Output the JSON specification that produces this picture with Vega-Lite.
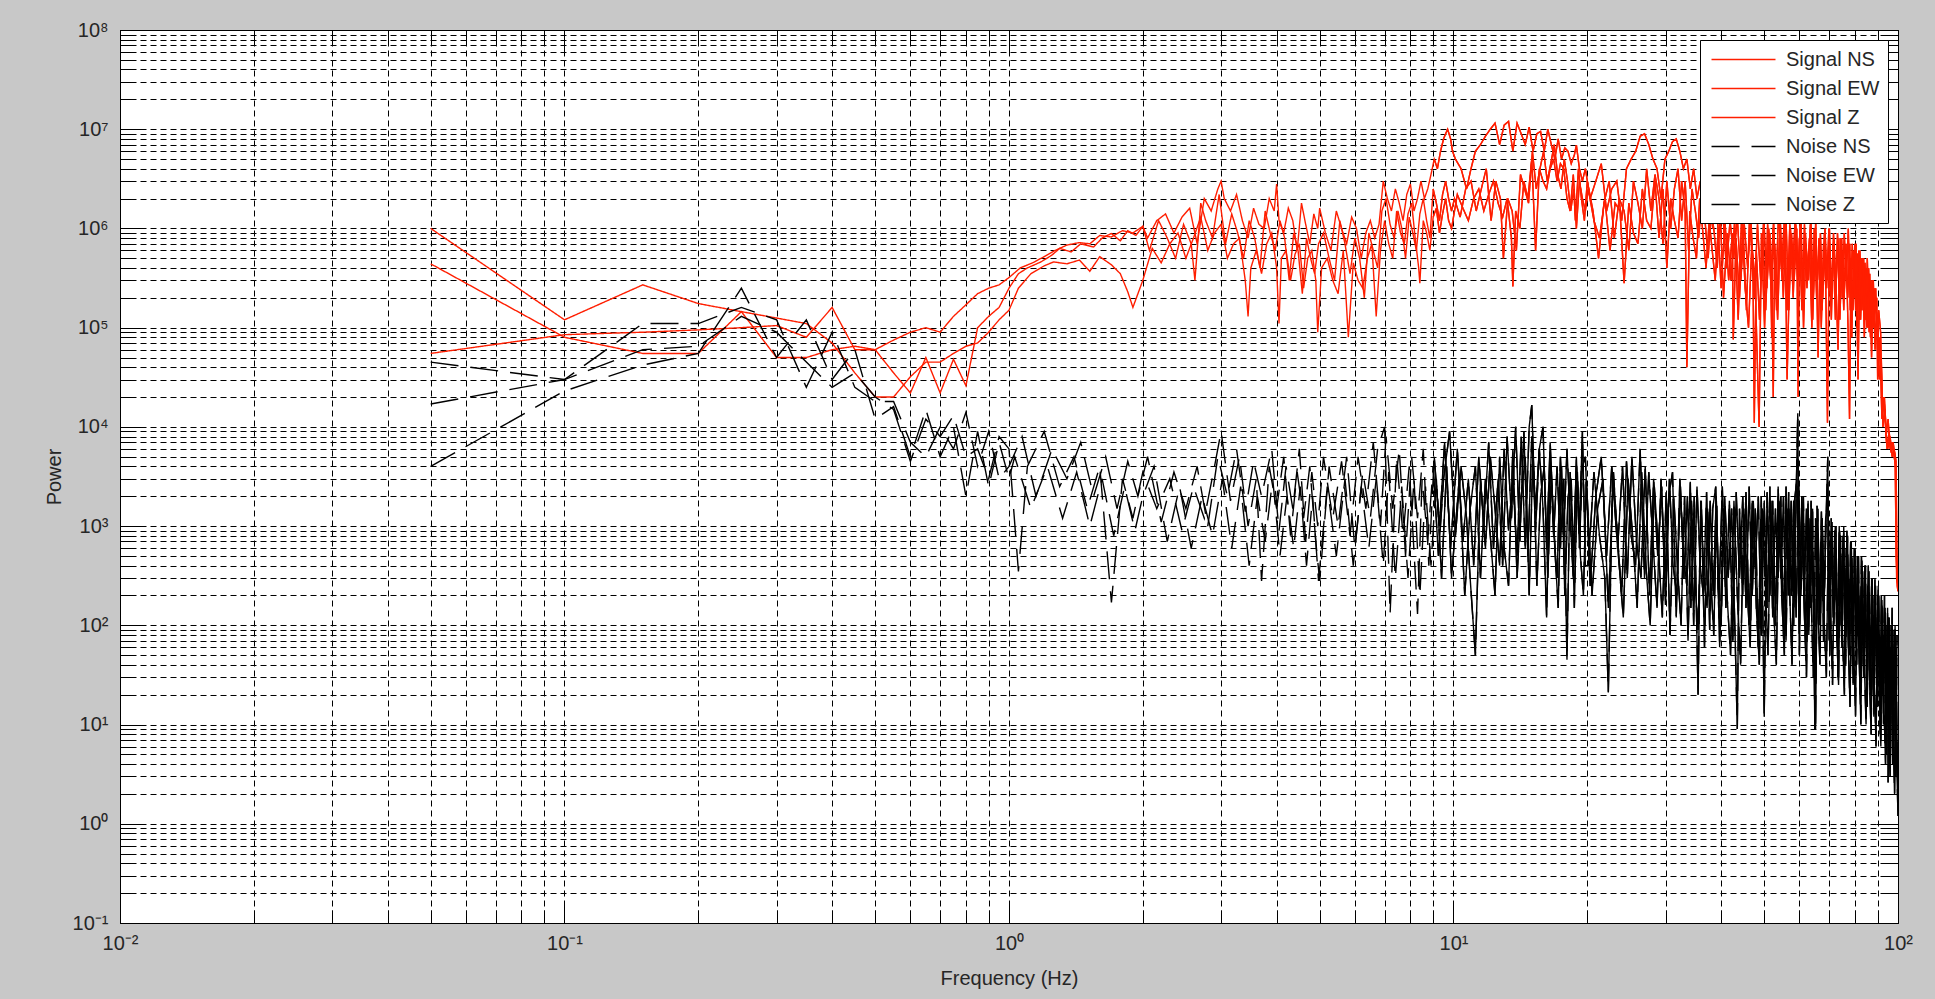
{
"$schema":"https://vega.github.io/schema/vega-lite/v6.json",
"width":1778,"height":893,
"autosize":{"type":"none"},
"padding":{"left":120,"top":30,"right":37,"bottom":76},
"background":"#c8c8c8",
"config":{
 "view":{"fill":"#ffffff","stroke":"#000000","strokeWidth":1},
 "font":"Liberation Sans",
 "axis":{"domain":false,"labelFont":"Liberation Sans","titleFont":"Liberation Sans","tickColor":"#000000","tickWidth":1,"gridColor":"#000000","gridDash":[6,4],"gridWidth":1,"gridOpacity":1},
 "legend":{"orient":"top-right","offset":10,"padding":8,"fillColor":"#ffffff","strokeColor":"#000000","strokeWidth":1,"cornerRadius":0,"labelFont":"Liberation Sans","labelFontSize":20,"labelColor":"#262626","symbolType":"M-3,0H3","symbolSize":455,"symbolOffset":24,"labelOffset":31,"symbolStrokeWidth":1.5,"rowPadding":7,"zindex":5}
},
"data":{"values":[
{"s":"A","f":0.05,"p":1e6},{"s":"A","f":0.1,"p":1.2e5},{"s":"A","f":0.15,"p":2.7e5},{"s":"A","f":0.2,"p":1.75e5},{"s":"A","f":0.25,"p":1.45e5},{"s":"A","f":0.3,"p":1.25e5},{"s":"A","f":0.35,"p":1.1e5},{"s":"A","f":0.4,"p":7e4},{"s":"A","f":0.45,"p":3.5e4},{"s":"A","f":0.5,"p":2e4},{"s":"A","f":0.55,"p":2e4},{"s":"A","f":0.6,"p":3.2e4},{"s":"A","f":0.65,"p":4.5e4},{"s":"A","f":0.7,"p":4.5e4},{"s":"A","f":0.75,"p":5.5e4},{"s":"A","f":0.8,"p":6.5e4},{"s":"A","f":0.85,"p":7e4},{"s":"A","f":0.9,"p":9e4},{"s":"A","f":0.95,"p":1.2e5},{"s":"A","f":1,"p":1.5e5},
{"s":"A","f":1.05,"p":2.5e5},{"s":"A","f":1.12,"p":3.5e5},{"s":"A","f":1.2,"p":4.2e5},{"s":"A","f":1.26,"p":4.6e5},{"s":"A","f":1.35,"p":4.4e5},{"s":"A","f":1.44,"p":4.8e5},{"s":"A","f":1.52,"p":3.7e5},{"s":"A","f":1.6,"p":5.2e5},{"s":"A","f":1.7,"p":4.3e5},{"s":"A","f":1.78,"p":3.5e5},{"s":"A","f":1.85,"p":2.3e5},{"s":"A","f":1.9,"p":1.6e5},{"s":"A","f":1.95,"p":2.2e5},{"s":"A","f":2,"p":3e5},
{"s":"A","f":2.1,"p":6.3e5},{"s":"A","f":2.2,"p":4.5e5},{"s":"A","f":2.3,"p":7e5},{"s":"A","f":2.4,"p":9e5},{"s":"A","f":2.5,"p":5e5},{"s":"A","f":2.6,"p":8e5},{"s":"A","f":2.7,"p":1.3e6},{"s":"A","f":2.8,"p":6e5},{"s":"A","f":2.9,"p":9e5},{"s":"A","f":3,"p":1.1e6},{"s":"A","f":3.1,"p":5e5},{"s":"A","f":3.2,"p":7e5},{"s":"A","f":3.3,"p":8e5},{"s":"A","f":3.4,"p":3e5},{"s":"A","f":3.45,"p":1.3e5},{"s":"A","f":3.5,"p":4e5},{"s":"A","f":3.6,"p":6e5},{"s":"A","f":3.7,"p":3.5e5},{"s":"A","f":3.8,"p":7e5},{"s":"A","f":3.9,"p":9e5},{"s":"A","f":4,"p":4e5},{"s":"A","f":4.05,"p":1.1e5},{"s":"A","f":4.1,"p":5e5},{"s":"A","f":4.2,"p":6e5},{"s":"A","f":4.3,"p":3e5},{"s":"A","f":4.4,"p":5.5e5},{"s":"A","f":4.5,"p":7e5},{"s":"A","f":4.6,"p":2.5e5},{"s":"A","f":4.7,"p":5e5},{"s":"A","f":4.8,"p":6e5},{"s":"A","f":4.9,"p":3e5},{"s":"A","f":4.95,"p":9e4},
{"s":"A","f":5.05,"p":4e5},{"s":"A","f":5.2,"p":5e5},{"s":"A","f":5.35,"p":3e5},{"s":"A","f":5.5,"p":2.2e5},{"s":"A","f":5.65,"p":6e5},{"s":"A","f":5.8,"p":8e4},{"s":"A","f":5.95,"p":4.5e5},{"s":"A","f":6.1,"p":3e5},{"s":"A","f":6.25,"p":2.5e5},{"s":"A","f":6.4,"p":5e5},{"s":"A","f":6.55,"p":7e5},{"s":"A","f":6.7,"p":1.3e5},{"s":"A","f":6.85,"p":6e5},{"s":"A","f":7,"p":1.2e6},{"s":"A","f":7.15,"p":7e5},{"s":"A","f":7.3,"p":5e5},{"s":"A","f":7.45,"p":1.5e6},{"s":"A","f":7.6,"p":9e5},{"s":"A","f":7.75,"p":7e5},{"s":"A","f":7.9,"p":1.4e6},{"s":"A","f":8.05,"p":1.8e6},{"s":"A","f":8.2,"p":8e5},{"s":"A","f":8.35,"p":4e5},{"s":"A","f":8.4,"p":2.8e5},{"s":"A","f":8.55,"p":1.2e6},{"s":"A","f":8.7,"p":9e5},{"s":"A","f":8.85,"p":6e5},{"s":"A","f":9,"p":1.3e6},{"s":"A","f":9.15,"p":1.6e6},{"s":"A","f":9.3,"p":9e5},{"s":"A","f":9.45,"p":1.4e6},{"s":"A","f":9.6,"p":2e6},{"s":"A","f":9.75,"p":1.2e6},{"s":"A","f":9.9,"p":1e6},
{"s":"A","f":10.2,"p":2.2e6},{"s":"A","f":10.5,"p":1.6e6},{"s":"A","f":10.8,"p":1.2e6},{"s":"A","f":11.1,"p":2e6},{"s":"A","f":11.4,"p":2.5e6},{"s":"A","f":11.7,"p":1.5e6},{"s":"A","f":12,"p":2.2e6},{"s":"A","f":12.3,"p":3e6},{"s":"A","f":12.6,"p":1.8e6},{"s":"A","f":12.9,"p":1.3e6},{"s":"A","f":13.2,"p":2e6},{"s":"A","f":13.5,"p":8e5},{"s":"A","f":13.6,"p":2.6e5},{"s":"A","f":13.8,"p":1.5e6},{"s":"A","f":14.1,"p":1e6},{"s":"A","f":14.4,"p":3e6},{"s":"A","f":14.7,"p":2e6},{"s":"A","f":15,"p":5e6},{"s":"A","f":15.3,"p":6e5},{"s":"A","f":15.6,"p":4e6},{"s":"A","f":15.9,"p":3e6},{"s":"A","f":16.2,"p":2.5e6},{"s":"A","f":16.5,"p":4e6},{"s":"A","f":16.8,"p":5e6},{"s":"A","f":17.1,"p":3e6},{"s":"A","f":17.4,"p":4.5e6},{"s":"A","f":17.7,"p":4e6},{"s":"A","f":18,"p":2e6},{"s":"A","f":18.3,"p":1.5e6},{"s":"A","f":18.6,"p":3.5e6},{"s":"A","f":18.9,"p":1e6},{"s":"A","f":19.2,"p":3e6},{"s":"A","f":19.5,"p":2e6},{"s":"A","f":19.8,"p":1.5e6},
{"s":"A","f":20.1,"p":2.5e6},{"s":"A","f":20.7,"p":1.2e6},{"s":"A","f":21.3,"p":8e5},{"s":"A","f":21.9,"p":2e6},{"s":"A","f":22.5,"p":6e5},{"s":"A","f":23.1,"p":1.8e6},{"s":"A","f":23.7,"p":1.5e6},{"s":"A","f":24.2,"p":2.8e5},{"s":"A","f":24.8,"p":1.8e6},{"s":"A","f":25.4,"p":9e5},{"s":"A","f":26,"p":7e5},{"s":"A","f":26.6,"p":2.5e6},{"s":"A","f":27.2,"p":1.2e6},{"s":"A","f":27.8,"p":1e6},{"s":"A","f":28.4,"p":3e6},{"s":"A","f":29,"p":8e5},{"s":"A","f":29.6,"p":2.5e6},{"s":"A","f":30.2,"p":4e5},{"s":"A","f":30.8,"p":2e6},{"s":"A","f":31.4,"p":1.2e6},{"s":"A","f":32,"p":8e5},{"s":"A","f":32.6,"p":3e6},{"s":"A","f":33.2,"p":1.5e6},{"s":"A","f":33.5,"p":4e4},{"s":"A","f":34,"p":1.5e6},{"s":"A","f":34.6,"p":8e5},{"s":"A","f":35.2,"p":5e5},{"s":"A","f":35.8,"p":2e6},{"s":"A","f":36.4,"p":9e5},{"s":"A","f":37,"p":4e5},{"s":"A","f":37.6,"p":1.2e6},{"s":"A","f":38.2,"p":6e5},{"s":"A","f":38.8,"p":3e5},{"s":"A","f":39.4,"p":1e6},
{"s":"A","f":40,"p":2.5e5},{"s":"A","f":40.8,"p":1.2e6},{"s":"A","f":41.6,"p":3e5},{"s":"A","f":42.4,"p":9e5},{"s":"A","f":42.6,"p":7.6e4},{"s":"A","f":43.2,"p":8e5},{"s":"A","f":44,"p":2e5},{"s":"A","f":44.8,"p":1.1e6},{"s":"A","f":45.6,"p":1.5e5},{"s":"A","f":46.4,"p":1.5e6},{"s":"A","f":47.2,"p":3e5},{"s":"A","f":47.5,"p":1.1e4},{"s":"A","f":48,"p":6e5},{"s":"A","f":48.8,"p":1.2e5},{"s":"A","f":49.6,"p":9e5},{"s":"A","f":50.4,"p":1.5e5},{"s":"A","f":51.2,"p":1e6},{"s":"A","f":52,"p":2.5e5},{"s":"A","f":52.4,"p":2e4},{"s":"A","f":52.8,"p":7e5},{"s":"A","f":53.6,"p":1.2e5},{"s":"A","f":54.4,"p":1.1e6},{"s":"A","f":55.2,"p":2e5},{"s":"A","f":56,"p":1.2e6},{"s":"A","f":56.8,"p":1.5e5},{"s":"A","f":57.6,"p":9e5},{"s":"A","f":58.4,"p":3e5},{"s":"A","f":59.2,"p":1e6},{"s":"A","f":59.6,"p":2e4},{"s":"A","f":60,"p":8e5},{"s":"A","f":60.8,"p":1.5e5},{"s":"A","f":61.6,"p":1.1e6},{"s":"A","f":62.4,"p":2.5e5},{"s":"A","f":63.2,"p":8e5},{"s":"A","f":64,"p":1e5},{"s":"A","f":64.8,"p":1e6},{"s":"A","f":65.6,"p":2e5},{"s":"A","f":66.4,"p":8e5},{"s":"A","f":67.2,"p":1e5},{"s":"A","f":68,"p":7e5},{"s":"A","f":68.8,"p":2.5e5},{"s":"A","f":69.4,"p":1.1e4},{"s":"A","f":70,"p":6e5},{"s":"A","f":70.8,"p":1.2e5},{"s":"A","f":71.6,"p":9e5},{"s":"A","f":72.4,"p":2e5},{"s":"A","f":73.2,"p":8e5},{"s":"A","f":74,"p":1.2e5},{"s":"A","f":74.8,"p":6e5},{"s":"A","f":75.6,"p":2e5},{"s":"A","f":76.4,"p":7e5},{"s":"A","f":77.2,"p":1e5},{"s":"A","f":77.8,"p":1.2e4},{"s":"A","f":78.4,"p":5e5},{"s":"A","f":79.2,"p":1.5e5},{"s":"A","f":80,"p":7e5},{"s":"A","f":80.8,"p":1e5},{"s":"A","f":81.6,"p":6e5},{"s":"A","f":82.4,"p":1.2e5},{"s":"A","f":83.2,"p":5e5},{"s":"A","f":84,"p":8e4},{"s":"A","f":84.8,"p":4e5},{"s":"A","f":85.6,"p":1e5},{"s":"A","f":86.4,"p":3.5e5},{"s":"A","f":87.2,"p":5e4},{"s":"A","f":88,"p":3e5},{"s":"A","f":88.8,"p":6e4},{"s":"A","f":89.6,"p":2e5},
{"s":"A","f":90,"p":3e4},{"s":"A","f":91,"p":8e4},{"s":"A","f":92,"p":1.2e4},{"s":"A","f":93,"p":2e4},{"s":"A","f":94,"p":8e3},{"s":"A","f":95,"p":1.2e4},{"s":"A","f":96,"p":6e3},{"s":"A","f":97,"p":7e3},{"s":"A","f":98,"p":5e3},{"s":"A","f":98.8,"p":4e3},{"s":"A","f":99.3,"p":3e2},{"s":"A","f":100,"p":2.5e2},
{"s":"B","f":0.05,"p":4.4e5},{"s":"B","f":0.1,"p":8e4},{"s":"B","f":0.15,"p":5.5e4},{"s":"B","f":0.2,"p":5.5e4},{"s":"B","f":0.25,"p":1.45e5},{"s":"B","f":0.3,"p":5e4},{"s":"B","f":0.35,"p":5e4},{"s":"B","f":0.4,"p":6e4},{"s":"B","f":0.45,"p":6.5e4},{"s":"B","f":0.5,"p":6e4},{"s":"B","f":0.55,"p":7.5e4},{"s":"B","f":0.6,"p":9e4},{"s":"B","f":0.65,"p":1e5},{"s":"B","f":0.7,"p":9e4},{"s":"B","f":0.75,"p":1.3e5},{"s":"B","f":0.8,"p":1.7e5},{"s":"B","f":0.85,"p":2.2e5},{"s":"B","f":0.9,"p":2.5e5},{"s":"B","f":0.95,"p":2.7e5},{"s":"B","f":1,"p":3.2e5},
{"s":"B","f":1.06,"p":4e5},{"s":"B","f":1.13,"p":4.5e5},{"s":"B","f":1.2,"p":5.2e5},{"s":"B","f":1.27,"p":6e5},{"s":"B","f":1.35,"p":6.8e5},{"s":"B","f":1.44,"p":7.2e5},{"s":"B","f":1.52,"p":7e5},{"s":"B","f":1.6,"p":8.5e5},{"s":"B","f":1.7,"p":8.2e5},{"s":"B","f":1.8,"p":9.5e5},{"s":"B","f":1.9,"p":9e5},{"s":"B","f":2,"p":1.05e6},
{"s":"B","f":2.05,"p":8e5},{"s":"B","f":2.15,"p":1.2e6},{"s":"B","f":2.25,"p":1.4e6},{"s":"B","f":2.35,"p":9e5},{"s":"B","f":2.45,"p":1.3e6},{"s":"B","f":2.55,"p":1.6e6},{"s":"B","f":2.65,"p":7e5},{"s":"B","f":2.75,"p":2e6},{"s":"B","f":2.85,"p":1.5e6},{"s":"B","f":2.95,"p":2.5e6},{"s":"B","f":3,"p":3e6},{"s":"B","f":3.05,"p":2e6},{"s":"B","f":3.15,"p":1.5e6},{"s":"B","f":3.25,"p":2.2e6},{"s":"B","f":3.35,"p":1.2e6},{"s":"B","f":3.45,"p":8e5},{"s":"B","f":3.55,"p":1.6e6},{"s":"B","f":3.65,"p":1.1e6},{"s":"B","f":3.75,"p":1e6},{"s":"B","f":3.85,"p":2e6},{"s":"B","f":3.95,"p":1.5e6},{"s":"B","f":4,"p":2.8e6},{"s":"B","f":4.05,"p":1.2e6},{"s":"B","f":4.15,"p":9e5},{"s":"B","f":4.25,"p":1.6e6},{"s":"B","f":4.35,"p":1.2e6},{"s":"B","f":4.45,"p":6e5},{"s":"B","f":4.55,"p":1.8e6},{"s":"B","f":4.65,"p":1.1e6},{"s":"B","f":4.75,"p":7e5},{"s":"B","f":4.85,"p":1.4e6},{"s":"B","f":4.95,"p":1e6},
{"s":"B","f":5,"p":1.6e6},{"s":"B","f":5.15,"p":9e5},{"s":"B","f":5.3,"p":6e5},{"s":"B","f":5.45,"p":1.5e6},{"s":"B","f":5.6,"p":1e6},{"s":"B","f":5.75,"p":7e5},{"s":"B","f":5.9,"p":1.3e6},{"s":"B","f":6.05,"p":1e6},{"s":"B","f":6.2,"p":5e5},{"s":"B","f":6.35,"p":9e5},{"s":"B","f":6.5,"p":1.2e6},{"s":"B","f":6.65,"p":8e5},{"s":"B","f":6.8,"p":1.1e6},{"s":"B","f":6.95,"p":3e6},{"s":"B","f":7.1,"p":2e6},{"s":"B","f":7.25,"p":1.5e6},{"s":"B","f":7.4,"p":2.5e6},{"s":"B","f":7.55,"p":1.8e6},{"s":"B","f":7.7,"p":1.2e6},{"s":"B","f":7.85,"p":2.2e6},{"s":"B","f":8,"p":2.8e6},{"s":"B","f":8.15,"p":1.5e6},{"s":"B","f":8.3,"p":2e6},{"s":"B","f":8.45,"p":3e6},{"s":"B","f":8.6,"p":2e6},{"s":"B","f":8.75,"p":2.5e6},{"s":"B","f":8.9,"p":3.5e6},{"s":"B","f":9.05,"p":5e6},{"s":"B","f":9.2,"p":4e6},{"s":"B","f":9.35,"p":6e6},{"s":"B","f":9.5,"p":8e6},{"s":"B","f":9.6,"p":9e6},{"s":"B","f":9.7,"p":1e7},{"s":"B","f":9.85,"p":8e6},{"s":"B","f":9.95,"p":6e6},
{"s":"B","f":10.1,"p":5e6},{"s":"B","f":10.4,"p":4e6},{"s":"B","f":10.7,"p":2.5e6},{"s":"B","f":10.95,"p":4e6},{"s":"B","f":11.2,"p":6e6},{"s":"B","f":11.5,"p":7e6},{"s":"B","f":11.8,"p":8.5e6},{"s":"B","f":12.1,"p":1e7},{"s":"B","f":12.4,"p":1.15e7},{"s":"B","f":12.7,"p":7e6},{"s":"B","f":13,"p":1.1e7},{"s":"B","f":13.3,"p":1.2e7},{"s":"B","f":13.6,"p":6e6},{"s":"B","f":13.9,"p":1.15e7},{"s":"B","f":14.2,"p":9e6},{"s":"B","f":14.5,"p":7e6},{"s":"B","f":14.8,"p":1.05e7},{"s":"B","f":15.1,"p":6e6},{"s":"B","f":15.4,"p":9e6},{"s":"B","f":15.7,"p":9.5e6},{"s":"B","f":16,"p":6e6},{"s":"B","f":16.3,"p":1e7},{"s":"B","f":16.6,"p":7e6},{"s":"B","f":16.9,"p":5e6},{"s":"B","f":17.2,"p":8e6},{"s":"B","f":17.5,"p":5e6},{"s":"B","f":17.8,"p":6.5e6},{"s":"B","f":18.1,"p":6e6},{"s":"B","f":18.4,"p":4.5e6},{"s":"B","f":18.7,"p":5.5e6},{"s":"B","f":18.9,"p":6.9e6},{"s":"B","f":19.2,"p":4e6},{"s":"B","f":19.5,"p":3e6},{"s":"B","f":19.8,"p":4e6},
{"s":"B","f":20.3,"p":2e6},{"s":"B","f":20.9,"p":3e6},{"s":"B","f":21.5,"p":4.5e6},{"s":"B","f":22.1,"p":1.5e6},{"s":"B","f":22.7,"p":2.5e6},{"s":"B","f":23.3,"p":3e6},{"s":"B","f":23.9,"p":1.2e6},{"s":"B","f":24.5,"p":4e6},{"s":"B","f":25.1,"p":5e6},{"s":"B","f":25.7,"p":6e6},{"s":"B","f":26.3,"p":8.5e6},{"s":"B","f":26.9,"p":9e6},{"s":"B","f":27.5,"p":7e6},{"s":"B","f":28.1,"p":5e6},{"s":"B","f":28.7,"p":4e6},{"s":"B","f":29.3,"p":2e6},{"s":"B","f":29.9,"p":5e6},{"s":"B","f":30.5,"p":6e6},{"s":"B","f":31.1,"p":7.5e6},{"s":"B","f":31.7,"p":8e6},{"s":"B","f":32.3,"p":6e6},{"s":"B","f":32.9,"p":4e6},{"s":"B","f":33.5,"p":5e6},{"s":"B","f":34.1,"p":2.5e6},{"s":"B","f":34.7,"p":4e6},{"s":"B","f":35.3,"p":2e6},{"s":"B","f":35.9,"p":3e6},{"s":"B","f":36.5,"p":1.5e6},{"s":"B","f":37.1,"p":2.5e6},{"s":"B","f":37.7,"p":1.8e6},{"s":"B","f":38.3,"p":1e6},{"s":"B","f":38.9,"p":2e6},{"s":"B","f":39.5,"p":8e5},
{"s":"B","f":40.3,"p":1.6e6},{"s":"B","f":41.1,"p":4e5},{"s":"B","f":41.9,"p":1.2e6},{"s":"B","f":42.7,"p":5e5},{"s":"B","f":43.5,"p":1.3e6},{"s":"B","f":44.3,"p":3e5},{"s":"B","f":45.1,"p":1.1e6},{"s":"B","f":45.9,"p":4e5},{"s":"B","f":46.7,"p":1.2e6},{"s":"B","f":47.5,"p":2e5},{"s":"B","f":48.3,"p":1.1e6},{"s":"B","f":49.1,"p":3e5},{"s":"B","f":49.9,"p":1.3e6},{"s":"B","f":50.7,"p":2.5e5},{"s":"B","f":51.5,"p":9e5},{"s":"B","f":52,"p":8e4},{"s":"B","f":52.3,"p":1e6},{"s":"B","f":53.1,"p":2.5e5},{"s":"B","f":53.9,"p":1.5e6},{"s":"B","f":54.7,"p":4e5},{"s":"B","f":55.5,"p":1.2e6},{"s":"B","f":56.3,"p":1.5e5},{"s":"B","f":57.1,"p":1.1e6},{"s":"B","f":57.9,"p":4e5},{"s":"B","f":58.7,"p":1.2e6},{"s":"B","f":59.5,"p":3e5},{"s":"B","f":60.3,"p":1.2e6},{"s":"B","f":61.1,"p":2e5},{"s":"B","f":61.9,"p":9e5},{"s":"B","f":62.7,"p":3e5},{"s":"B","f":63.5,"p":1.1e6},{"s":"B","f":64.3,"p":1.2e5},{"s":"B","f":65.1,"p":1e6},{"s":"B","f":65.9,"p":3e5},{"s":"B","f":66.7,"p":8e5},{"s":"B","f":67.5,"p":1.5e5},{"s":"B","f":68.3,"p":9e5},{"s":"B","f":69.1,"p":2.5e5},{"s":"B","f":69.9,"p":1e6},{"s":"B","f":70.7,"p":2e5},{"s":"B","f":71.5,"p":7e5},{"s":"B","f":72.3,"p":1.2e5},{"s":"B","f":73.1,"p":9e5},{"s":"B","f":73.9,"p":2.5e5},{"s":"B","f":74.7,"p":8e5},{"s":"B","f":75.5,"p":1.5e5},{"s":"B","f":76.3,"p":6e5},{"s":"B","f":77.1,"p":2e5},{"s":"B","f":77.9,"p":7e5},{"s":"B","f":78.7,"p":8e4},{"s":"B","f":79.5,"p":6e5},{"s":"B","f":80.3,"p":1.5e5},{"s":"B","f":81.1,"p":5.6e5},{"s":"B","f":81.9,"p":1.2e5},{"s":"B","f":82.7,"p":5e5},{"s":"B","f":83.5,"p":1.5e5},{"s":"B","f":84.3,"p":4.5e5},{"s":"B","f":85.1,"p":1e5},{"s":"B","f":85.9,"p":4e5},{"s":"B","f":86.7,"p":8e4},{"s":"B","f":87.5,"p":3e5},{"s":"B","f":88.3,"p":1e5},{"s":"B","f":89.1,"p":2.5e5},{"s":"B","f":89.9,"p":6e4},
{"s":"B","f":90.5,"p":1.5e5},{"s":"B","f":91.4,"p":8.9e4},{"s":"B","f":92.2,"p":1.27e4},{"s":"B","f":93.2,"p":2e4},{"s":"B","f":94.2,"p":7e3},{"s":"B","f":95,"p":6.3e3},{"s":"B","f":96,"p":8e3},{"s":"B","f":97,"p":5e3},{"s":"B","f":98,"p":6e3},{"s":"B","f":99,"p":4.5e3},{"s":"B","f":99.5,"p":4e2},{"s":"B","f":100,"p":3e2},
{"s":"C","f":0.05,"p":5.5e4},{"s":"C","f":0.1,"p":8.5e4},{"s":"C","f":0.15,"p":9e4},{"s":"C","f":0.2,"p":9.5e4},{"s":"C","f":0.25,"p":1e5},{"s":"C","f":0.3,"p":1.05e5},{"s":"C","f":0.35,"p":8e4},{"s":"C","f":0.4,"p":1.6e5},{"s":"C","f":0.45,"p":6e4},{"s":"C","f":0.5,"p":6e4},{"s":"C","f":0.55,"p":3.5e4},{"s":"C","f":0.6,"p":2.2e4},{"s":"C","f":0.65,"p":5e4},{"s":"C","f":0.7,"p":2.2e4},{"s":"C","f":0.75,"p":4.8e4},{"s":"C","f":0.8,"p":2.6e4},{"s":"C","f":0.85,"p":1e5},{"s":"C","f":0.9,"p":1.3e5},{"s":"C","f":0.95,"p":1.6e5},{"s":"C","f":1,"p":2.5e5},
{"s":"C","f":1.05,"p":3.5e5},{"s":"C","f":1.1,"p":4e5},{"s":"C","f":1.18,"p":4.6e5},{"s":"C","f":1.25,"p":5.4e5},{"s":"C","f":1.3,"p":6.3e5},{"s":"C","f":1.38,"p":5.8e5},{"s":"C","f":1.45,"p":7e5},{"s":"C","f":1.55,"p":6.5e5},{"s":"C","f":1.62,"p":8e5},{"s":"C","f":1.7,"p":8.9e5},{"s":"C","f":1.78,"p":7.5e5},{"s":"C","f":1.85,"p":9.5e5},{"s":"C","f":1.93,"p":8.5e5},{"s":"C","f":2,"p":1.05e6},
{"s":"C","f":2.07,"p":6e5},{"s":"C","f":2.17,"p":1.2e6},{"s":"C","f":2.27,"p":8e5},{"s":"C","f":2.37,"p":5e5},{"s":"C","f":2.47,"p":1.1e6},{"s":"C","f":2.57,"p":7e5},{"s":"C","f":2.62,"p":3e5},{"s":"C","f":2.7,"p":1.8e6},{"s":"C","f":2.77,"p":1.2e6},{"s":"C","f":2.87,"p":8e5},{"s":"C","f":2.97,"p":2.2e6},{"s":"C","f":3.07,"p":7e5},{"s":"C","f":3.17,"p":1.4e6},{"s":"C","f":3.27,"p":9e5},{"s":"C","f":3.37,"p":5e5},{"s":"C","f":3.47,"p":1.2e6},{"s":"C","f":3.57,"p":8e5},{"s":"C","f":3.67,"p":4e5},{"s":"C","f":3.77,"p":1.5e6},{"s":"C","f":3.87,"p":9e5},{"s":"C","f":3.97,"p":6e5},{"s":"C","f":4.07,"p":1.2e6},{"s":"C","f":4.17,"p":8e5},{"s":"C","f":4.27,"p":3e5},{"s":"C","f":4.37,"p":9e5},{"s":"C","f":4.47,"p":6e5},{"s":"C","f":4.57,"p":2.2e5},{"s":"C","f":4.67,"p":8e5},{"s":"C","f":4.77,"p":5e5},{"s":"C","f":4.87,"p":3.5e5},{"s":"C","f":4.97,"p":7e5},
{"s":"C","f":5.1,"p":9e5},{"s":"C","f":5.25,"p":5e5},{"s":"C","f":5.4,"p":3e5},{"s":"C","f":5.55,"p":1.2e6},{"s":"C","f":5.7,"p":7e5},{"s":"C","f":5.85,"p":3.5e5},{"s":"C","f":6,"p":8e5},{"s":"C","f":6.15,"p":5e5},{"s":"C","f":6.3,"p":2e5},{"s":"C","f":6.45,"p":9e5},{"s":"C","f":6.6,"p":6e5},{"s":"C","f":6.75,"p":4e5},{"s":"C","f":6.9,"p":1.5e6},{"s":"C","f":7.05,"p":2e6},{"s":"C","f":7.2,"p":1.1e6},{"s":"C","f":7.35,"p":8e5},{"s":"C","f":7.5,"p":1.5e6},{"s":"C","f":7.65,"p":1e6},{"s":"C","f":7.8,"p":5e5},{"s":"C","f":7.95,"p":1.3e6},{"s":"C","f":8.1,"p":9e5},{"s":"C","f":8.25,"p":6e5},{"s":"C","f":8.4,"p":1.4e6},{"s":"C","f":8.55,"p":2e6},{"s":"C","f":8.7,"p":1.2e6},{"s":"C","f":8.85,"p":8e5},{"s":"C","f":9,"p":2.5e6},{"s":"C","f":9.15,"p":1.8e6},{"s":"C","f":9.3,"p":1.2e6},{"s":"C","f":9.45,"p":2.2e6},{"s":"C","f":9.6,"p":3e6},{"s":"C","f":9.75,"p":2e6},{"s":"C","f":9.9,"p":1.5e6},
{"s":"C","f":10.05,"p":2e6},{"s":"C","f":10.35,"p":1.3e6},{"s":"C","f":10.65,"p":2.5e6},{"s":"C","f":10.95,"p":3e6},{"s":"C","f":11.25,"p":1.5e6},{"s":"C","f":11.55,"p":2.5e6},{"s":"C","f":11.85,"p":4e6},{"s":"C","f":12.15,"p":1.2e6},{"s":"C","f":12.45,"p":3e6},{"s":"C","f":12.75,"p":2e6},{"s":"C","f":12.95,"p":5e5},{"s":"C","f":13.25,"p":2e6},{"s":"C","f":13.55,"p":1.5e6},{"s":"C","f":13.85,"p":6e5},{"s":"C","f":14.15,"p":3.5e6},{"s":"C","f":14.45,"p":2.5e6},{"s":"C","f":14.75,"p":1.8e6},{"s":"C","f":15.05,"p":6e6},{"s":"C","f":15.35,"p":2.5e6},{"s":"C","f":15.65,"p":4e6},{"s":"C","f":15.95,"p":6e6},{"s":"C","f":16.25,"p":3e6},{"s":"C","f":16.55,"p":4.5e6},{"s":"C","f":16.85,"p":7e6},{"s":"C","f":17.15,"p":3.5e6},{"s":"C","f":17.45,"p":2.5e6},{"s":"C","f":17.75,"p":5e6},{"s":"C","f":18.05,"p":3e6},{"s":"C","f":18.35,"p":1.5e6},{"s":"C","f":18.65,"p":2.5e6},{"s":"C","f":18.8,"p":1.2e6},{"s":"C","f":19.1,"p":4e6},{"s":"C","f":19.4,"p":2e6},{"s":"C","f":19.7,"p":1.2e6},
{"s":"C","f":20,"p":3e6},{"s":"C","f":20.6,"p":1.5e6},{"s":"C","f":21.2,"p":5e5},{"s":"C","f":21.8,"p":1.8e6},{"s":"C","f":22.4,"p":3e6},{"s":"C","f":23,"p":8e5},{"s":"C","f":23.6,"p":2e6},{"s":"C","f":24.2,"p":1.5e6},{"s":"C","f":24.8,"p":6e5},{"s":"C","f":25.4,"p":3e6},{"s":"C","f":26,"p":1.8e6},{"s":"C","f":26.6,"p":1e6},{"s":"C","f":27.2,"p":4e6},{"s":"C","f":27.8,"p":1.5e6},{"s":"C","f":28.4,"p":3.5e6},{"s":"C","f":29,"p":2e6},{"s":"C","f":29.6,"p":7e5},{"s":"C","f":30.2,"p":3e6},{"s":"C","f":30.8,"p":1e6},{"s":"C","f":31.4,"p":2.5e6},{"s":"C","f":32,"p":4e6},{"s":"C","f":32.6,"p":1.2e6},{"s":"C","f":33.2,"p":3e6},{"s":"C","f":33.8,"p":6e5},{"s":"C","f":34.4,"p":2.5e6},{"s":"C","f":35,"p":1.5e6},{"s":"C","f":35.6,"p":8e5},{"s":"C","f":36.2,"p":2e6},{"s":"C","f":36.8,"p":1.2e6},{"s":"C","f":37.4,"p":5e5},{"s":"C","f":38,"p":1.6e6},{"s":"C","f":38.6,"p":9e5},{"s":"C","f":39.2,"p":4e5},{"s":"C","f":39.8,"p":1.5e6},
{"s":"C","f":40.5,"p":2e5},{"s":"C","f":41.3,"p":9e5},{"s":"C","f":42.1,"p":3e5},{"s":"C","f":42.9,"p":1.2e6},{"s":"C","f":43.7,"p":1.2e5},{"s":"C","f":44.5,"p":1.4e6},{"s":"C","f":45.3,"p":2.5e5},{"s":"C","f":46.1,"p":1e5},{"s":"C","f":46.9,"p":7e5},{"s":"C","f":47.7,"p":3e5},{"s":"C","f":48.7,"p":1e4},{"s":"C","f":49.3,"p":9e5},{"s":"C","f":50.1,"p":1e5},{"s":"C","f":50.9,"p":1.1e6},{"s":"C","f":51.7,"p":3e5},{"s":"C","f":52.5,"p":1.2e6},{"s":"C","f":53.3,"p":1.5e5},{"s":"C","f":54.1,"p":8e5},{"s":"C","f":54.9,"p":3e5},{"s":"C","f":55.7,"p":1e6},{"s":"C","f":56.3,"p":3e4},{"s":"C","f":57.3,"p":1e6},{"s":"C","f":58.1,"p":2e5},{"s":"C","f":58.9,"p":1.1e6},{"s":"C","f":59.7,"p":3e5},{"s":"C","f":60.5,"p":1.3e6},{"s":"C","f":61.3,"p":1e5},{"s":"C","f":62.1,"p":7e5},{"s":"C","f":62.9,"p":3e5},{"s":"C","f":63.7,"p":1.2e6},{"s":"C","f":64.5,"p":2e5},{"s":"C","f":65.3,"p":1.2e6},{"s":"C","f":66.1,"p":5e4},{"s":"C","f":66.9,"p":9e5},{"s":"C","f":67.7,"p":2e5},{"s":"C","f":68.5,"p":1e6},{"s":"C","f":69.3,"p":3e5},{"s":"C","f":70.1,"p":1e6},{"s":"C","f":70.9,"p":2e5},{"s":"C","f":71.7,"p":8e5},{"s":"C","f":72.5,"p":3e5},{"s":"C","f":73.3,"p":6e4},{"s":"C","f":74.1,"p":8e5},{"s":"C","f":74.9,"p":2e5},{"s":"C","f":75.7,"p":9e5},{"s":"C","f":76.5,"p":3e5},{"s":"C","f":77.3,"p":1e6},{"s":"C","f":78.1,"p":1.5e5},{"s":"C","f":78.9,"p":7e5},{"s":"C","f":79.7,"p":2e5},{"s":"C","f":80.5,"p":7e5},{"s":"C","f":81.3,"p":3e4},{"s":"C","f":82.1,"p":6e5},{"s":"C","f":82.9,"p":1.5e5},{"s":"C","f":83.7,"p":5e5},{"s":"C","f":84.5,"p":1.2e5},{"s":"C","f":85.3,"p":5e5},{"s":"C","f":86.1,"p":9e4},{"s":"C","f":86.9,"p":3e5},{"s":"C","f":87.7,"p":1e5},{"s":"C","f":88.5,"p":2.5e5},{"s":"C","f":89.3,"p":1.5e5},{"s":"C","f":89.9,"p":1.2e5},
{"s":"C","f":90.8,"p":3e4},{"s":"C","f":91.7,"p":5e4},{"s":"C","f":92.5,"p":1e4},{"s":"C","f":93.5,"p":1.5e4},{"s":"C","f":94.5,"p":6e3},{"s":"C","f":95.5,"p":9e3},{"s":"C","f":96.5,"p":5.5e3},{"s":"C","f":97.5,"p":7e3},{"s":"C","f":98.5,"p":5e3},{"s":"C","f":99.1,"p":5e2},{"s":"C","f":99.6,"p":2.5e2},{"s":"C","f":100,"p":2.2e2},
{"s":"D","f":0.05,"p":4.5e4},{"s":"D","f":0.1,"p":3e4},{"s":"D","f":0.15,"p":6e4},{"s":"D","f":0.2,"p":6.5e4},{"s":"D","f":0.25,"p":1.3e5},{"s":"D","f":0.3,"p":9e4},{"s":"D","f":0.35,"p":4.5e4},{"s":"D","f":0.4,"p":2.5e4},{"s":"D","f":0.45,"p":3.5e4},{"s":"D","f":0.5,"p":2e4},{"s":"D","f":0.55,"p":1.5e4},{"s":"D","f":0.6,"p":4.5e3},{"s":"D","f":0.65,"p":1.2e4},{"s":"D","f":0.7,"p":8e3},{"s":"D","f":0.75,"p":1.3e4},{"s":"D","f":0.8,"p":5e3},{"s":"D","f":0.85,"p":6e3},{"s":"D","f":0.9,"p":3e3},{"s":"D","f":0.95,"p":8e3},{"s":"D","f":1,"p":6e3},
{"s":"D","f":1.05,"p":3.5e2},{"s":"D","f":1.1,"p":4e3},{"s":"D","f":1.2,"p":9e3},{"s":"D","f":1.3,"p":2.5e3},{"s":"D","f":1.4,"p":5e3},{"s":"D","f":1.5,"p":1.5e3},{"s":"D","f":1.6,"p":4e3},{"s":"D","f":1.7,"p":1.7e2},{"s":"D","f":1.8,"p":3e3},{"s":"D","f":1.9,"p":1.2e3},{"s":"D","f":2,"p":3.5e3},
{"s":"D","f":2.15,"p":1.5e3},{"s":"D","f":2.3,"p":3e3},{"s":"D","f":2.45,"p":9e2},{"s":"D","f":2.6,"p":2.5e3},{"s":"D","f":2.75,"p":1.2e3},{"s":"D","f":2.9,"p":4e3},{"s":"D","f":3,"p":9e3},{"s":"D","f":3.15,"p":1.8e3},{"s":"D","f":3.3,"p":5e3},{"s":"D","f":3.45,"p":1e3},{"s":"D","f":3.6,"p":3e3},{"s":"D","f":3.7,"p":2.8e2},{"s":"D","f":3.85,"p":4e3},{"s":"D","f":4,"p":1.5e3},{"s":"D","f":4.15,"p":5e3},{"s":"D","f":4.3,"p":8e2},{"s":"D","f":4.45,"p":3.5e3},{"s":"D","f":4.6,"p":1.2e3},{"s":"D","f":4.75,"p":4e3},{"s":"D","f":4.9,"p":7e2},
{"s":"D","f":5,"p":2.8e2},{"s":"D","f":5.25,"p":4e3},{"s":"D","f":5.5,"p":1e3},{"s":"D","f":5.75,"p":5e3},{"s":"D","f":6,"p":6e2},{"s":"D","f":6.25,"p":3.5e3},{"s":"D","f":6.5,"p":1.2e3},{"s":"D","f":6.75,"p":6e3},{"s":"D","f":7,"p":1e4},{"s":"D","f":7.2,"p":1.3e2},{"s":"D","f":7.45,"p":5e3},{"s":"D","f":7.7,"p":8e2},{"s":"D","f":7.95,"p":4e3},{"s":"D","f":8.3,"p":1.3e2},{"s":"D","f":8.5,"p":3e3},{"s":"D","f":8.75,"p":7e2},{"s":"D","f":9,"p":4e3},{"s":"D","f":9.25,"p":5e2},{"s":"D","f":9.5,"p":3e3},{"s":"D","f":9.8,"p":9e3},
{"s":"D","f":10.1,"p":8e2},{"s":"D","f":10.4,"p":4e3},{"s":"D","f":10.7,"p":1.2e3},{"s":"D","f":10.9,"p":3e2},{"s":"D","f":11.2,"p":5e1},{"s":"D","f":11.5,"p":3e3},{"s":"D","f":11.8,"p":6e2},{"s":"D","f":12.1,"p":5e3},{"s":"D","f":12.4,"p":1.5e3},{"s":"D","f":12.7,"p":4e2},{"s":"D","f":13,"p":6e3},{"s":"D","f":13.3,"p":9e2},{"s":"D","f":13.6,"p":3e3},{"s":"D","f":13.9,"p":5e2},{"s":"D","f":14.2,"p":8e3},{"s":"D","f":14.5,"p":6e2},{"s":"D","f":14.8,"p":1e4},{"s":"D","f":15,"p":1.66e4},{"s":"D","f":15.3,"p":9e2},{"s":"D","f":15.6,"p":6e3},{"s":"D","f":15.9,"p":1.5e3},{"s":"D","f":16.2,"p":1.2e2},{"s":"D","f":16.5,"p":5e3},{"s":"D","f":16.8,"p":8e2},{"s":"D","f":17.1,"p":4e3},{"s":"D","f":17.4,"p":6e2},{"s":"D","f":17.7,"p":3e3},{"s":"D","f":18,"p":4.5e1},{"s":"D","f":18.3,"p":3.5e3},{"s":"D","f":18.6,"p":5e2},{"s":"D","f":18.9,"p":4e3},{"s":"D","f":19.2,"p":1e3},{"s":"D","f":19.5,"p":9e3},{"s":"D","f":19.8,"p":4e2},
{"s":"D","f":20.1,"p":4e2},{"s":"D","f":20.7,"p":3.5e3},{"s":"D","f":21.3,"p":8e2},{"s":"D","f":21.9,"p":3e2},{"s":"D","f":22.3,"p":2.1e1},{"s":"D","f":22.8,"p":3e3},{"s":"D","f":23.4,"p":6e2},{"s":"D","f":24,"p":4e3},{"s":"D","f":24.6,"p":3e2},{"s":"D","f":25.2,"p":5e3},{"s":"D","f":25.8,"p":7e2},{"s":"D","f":26.4,"p":3e2},{"s":"D","f":27,"p":4e3},{"s":"D","f":27.6,"p":2e2},{"s":"D","f":28.2,"p":3e3},{"s":"D","f":28.8,"p":5e2},{"s":"D","f":29.4,"p":2.5e3},{"s":"D","f":30,"p":1.6e2},{"s":"D","f":30.6,"p":3e3},{"s":"D","f":31.2,"p":4e2},{"s":"D","f":31.8,"p":2e2},{"s":"D","f":32.4,"p":2.5e3},{"s":"D","f":33,"p":3e2},{"s":"D","f":33.6,"p":2e3},{"s":"D","f":34.2,"p":1.5e2},{"s":"D","f":34.8,"p":2e3},{"s":"D","f":35.5,"p":2e1},{"s":"D","f":36,"p":1.8e3},{"s":"D","f":36.6,"p":3e2},{"s":"D","f":37.2,"p":1.5e2},{"s":"D","f":37.8,"p":1.8e3},{"s":"D","f":38.4,"p":2e2},{"s":"D","f":39,"p":2e3},{"s":"D","f":39.6,"p":1.2e2},
{"s":"D","f":40,"p":1e2},{"s":"D","f":40.75,"p":2e3},{"s":"D","f":41.5,"p":3e2},{"s":"D","f":42.25,"p":1.5e3},{"s":"D","f":43,"p":8e1},{"s":"D","f":43.5,"p":9},{"s":"D","f":44,"p":1.5e3},{"s":"D","f":44.75,"p":2e2},{"s":"D","f":45.5,"p":2.2e3},{"s":"D","f":46.25,"p":1e2},{"s":"D","f":47,"p":1.8e3},{"s":"D","f":47.75,"p":4e2},{"s":"D","f":48.5,"p":2e3},{"s":"D","f":49.25,"p":8e1},{"s":"D","f":50,"p":1.8e3},{"s":"D","f":50.75,"p":1.5e2},{"s":"D","f":51.5,"p":2.5e3},{"s":"D","f":52.25,"p":1.2e2},{"s":"D","f":53,"p":1.5e3},{"s":"D","f":53.75,"p":3e2},{"s":"D","f":54.5,"p":2e3},{"s":"D","f":55.25,"p":9e1},{"s":"D","f":56,"p":2.5e3},{"s":"D","f":56.75,"p":2e2},{"s":"D","f":57.5,"p":1.8e3},{"s":"D","f":58.25,"p":1e2},{"s":"D","f":59,"p":2e3},{"s":"D","f":59.5,"p":1.37e4},{"s":"D","f":60,"p":1.2e2},{"s":"D","f":60.75,"p":2e3},{"s":"D","f":61.5,"p":2e2},{"s":"D","f":62.25,"p":1.5e3},{"s":"D","f":63,"p":8e1},{"s":"D","f":63.75,"p":1.8e3},{"s":"D","f":64.5,"p":1.5e2},{"s":"D","f":65.25,"p":9},{"s":"D","f":66,"p":1.5e3},{"s":"D","f":66.75,"p":1e2},{"s":"D","f":67.5,"p":1.2e3},{"s":"D","f":68.25,"p":2e2},{"s":"D","f":69,"p":1.5e3},{"s":"D","f":69.5,"p":5e3},{"s":"D","f":70,"p":7e1},{"s":"D","f":70.75,"p":1.2e3},{"s":"D","f":71.5,"p":1.2e2},{"s":"D","f":72.25,"p":1e3},{"s":"D","f":73,"p":6e1},{"s":"D","f":73.75,"p":1e3},{"s":"D","f":74.5,"p":1e2},{"s":"D","f":75.25,"p":8e2},{"s":"D","f":76,"p":5e1},{"s":"D","f":76.75,"p":9e2},{"s":"D","f":77.5,"p":8e1},{"s":"D","f":78.25,"p":7e2},{"s":"D","f":79,"p":4e1},{"s":"D","f":79.75,"p":6e2},{"s":"D","f":80.5,"p":6e1},{"s":"D","f":81.25,"p":5e2},{"s":"D","f":82,"p":3e1},{"s":"D","f":82.75,"p":5e2},{"s":"D","f":83.5,"p":4e1},{"s":"D","f":84.25,"p":4e2},{"s":"D","f":85,"p":2.5e1},{"s":"D","f":85.75,"p":4e2},{"s":"D","f":86.5,"p":3e1},{"s":"D","f":87.25,"p":3e2},{"s":"D","f":88,"p":2e1},{"s":"D","f":88.75,"p":3e2},{"s":"D","f":89.5,"p":2.5e1},{"s":"D","f":90.25,"p":2.5e2},{"s":"D","f":91,"p":1.5e1},{"s":"D","f":91.75,"p":2e2},{"s":"D","f":92.5,"p":2e1},{"s":"D","f":93.25,"p":2e2},{"s":"D","f":94,"p":1e1},{"s":"D","f":94.75,"p":1.5e2},{"s":"D","f":95,"p":2.6},{"s":"D","f":95.5,"p":1.2e2},{"s":"D","f":96.25,"p":8},{"s":"D","f":97,"p":1.5e2},{"s":"D","f":97.75,"p":6},{"s":"D","f":98.5,"p":1e2},{"s":"D","f":99.25,"p":5},{"s":"D","f":100,"p":1.2},
{"s":"E","f":0.05,"p":1.7e4},{"s":"E","f":0.1,"p":3e4},{"s":"E","f":0.15,"p":1.1e5},{"s":"E","f":0.2,"p":1.1e5},{"s":"E","f":0.25,"p":1.6e5},{"s":"E","f":0.3,"p":1.2e5},{"s":"E","f":0.35,"p":2.5e4},{"s":"E","f":0.4,"p":9e4},{"s":"E","f":0.45,"p":2.5e4},{"s":"E","f":0.5,"p":1.8e4},{"s":"E","f":0.55,"p":1.8e4},{"s":"E","f":0.6,"p":7e3},{"s":"E","f":0.65,"p":5e3},{"s":"E","f":0.7,"p":1e4},{"s":"E","f":0.75,"p":6e3},{"s":"E","f":0.8,"p":1.4e4},{"s":"E","f":0.85,"p":4e3},{"s":"E","f":0.9,"p":9e3},{"s":"E","f":0.95,"p":3e3},{"s":"E","f":1,"p":4e3},
{"s":"E","f":1.07,"p":8e3},{"s":"E","f":1.15,"p":2e3},{"s":"E","f":1.25,"p":6e3},{"s":"E","f":1.35,"p":3e3},{"s":"E","f":1.45,"p":7e3},{"s":"E","f":1.55,"p":2e3},{"s":"E","f":1.65,"p":5e3},{"s":"E","f":1.75,"p":1.5e3},{"s":"E","f":1.85,"p":4.5e3},{"s":"E","f":1.95,"p":2e3},
{"s":"E","f":2.05,"p":5e3},{"s":"E","f":2.2,"p":1.1e3},{"s":"E","f":2.35,"p":3.5e3},{"s":"E","f":2.5,"p":1.5e3},{"s":"E","f":2.65,"p":4e3},{"s":"E","f":2.8,"p":1e3},{"s":"E","f":2.95,"p":5e3},{"s":"E","f":3.1,"p":2e3},{"s":"E","f":3.25,"p":6e3},{"s":"E","f":3.4,"p":1.4e3},{"s":"E","f":3.55,"p":4.5e3},{"s":"E","f":3.7,"p":2e3},{"s":"E","f":3.9,"p":6e3},{"s":"E","f":4.05,"p":9e2},{"s":"E","f":4.2,"p":4e3},{"s":"E","f":4.35,"p":1.5e3},{"s":"E","f":4.5,"p":6e3},{"s":"E","f":4.65,"p":7e2},{"s":"E","f":4.8,"p":3.5e3},{"s":"E","f":4.95,"p":1e3},
{"s":"E","f":5.1,"p":5e3},{"s":"E","f":5.35,"p":1.2e3},{"s":"E","f":5.6,"p":4.5e3},{"s":"E","f":5.85,"p":8e2},{"s":"E","f":6.1,"p":5e3},{"s":"E","f":6.35,"p":1.5e3},{"s":"E","f":6.6,"p":7e3},{"s":"E","f":6.85,"p":1e3},{"s":"E","f":7.05,"p":8e3},{"s":"E","f":7.3,"p":1.5e3},{"s":"E","f":7.55,"p":6e3},{"s":"E","f":7.8,"p":5e2},{"s":"E","f":8.05,"p":5e3},{"s":"E","f":8.3,"p":1.2e3},{"s":"E","f":8.55,"p":6e3},{"s":"E","f":8.8,"p":4e2},{"s":"E","f":9.05,"p":5e3},{"s":"E","f":9.3,"p":1e3},{"s":"E","f":9.55,"p":7e3},{"s":"E","f":9.85,"p":6e2},
{"s":"E","f":10.2,"p":6e3},{"s":"E","f":10.5,"p":7e2},{"s":"E","f":10.8,"p":3e3},{"s":"E","f":11.1,"p":4e2},{"s":"E","f":11.4,"p":5e3},{"s":"E","f":11.7,"p":1e3},{"s":"E","f":12,"p":7e3},{"s":"E","f":12.3,"p":6e2},{"s":"E","f":12.6,"p":3e3},{"s":"E","f":12.9,"p":4e2},{"s":"E","f":13.2,"p":8e3},{"s":"E","f":13.5,"p":1.2e3},{"s":"E","f":13.8,"p":1e4},{"s":"E","f":14.1,"p":7e2},{"s":"E","f":14.4,"p":9e3},{"s":"E","f":14.7,"p":5e2},{"s":"E","f":15,"p":8e3},{"s":"E","f":15.3,"p":1.5e3},{"s":"E","f":15.6,"p":6e3},{"s":"E","f":15.9,"p":1e4},{"s":"E","f":16.2,"p":6e2},{"s":"E","f":16.5,"p":7e3},{"s":"E","f":16.8,"p":1e3},{"s":"E","f":17.1,"p":3e2},{"s":"E","f":17.4,"p":5e3},{"s":"E","f":17.7,"p":8e2},{"s":"E","f":18,"p":6e3},{"s":"E","f":18.3,"p":1.2e3},{"s":"E","f":18.6,"p":3e2},{"s":"E","f":18.9,"p":5e3},{"s":"E","f":19.2,"p":6e2},{"s":"E","f":19.5,"p":4e3},{"s":"E","f":19.8,"p":5e3},
{"s":"E","f":20.3,"p":2.5e2},{"s":"E","f":20.9,"p":2e3},{"s":"E","f":21.5,"p":5e3},{"s":"E","f":22.1,"p":5e2},{"s":"E","f":22.7,"p":4e3},{"s":"E","f":23.3,"p":1e3},{"s":"E","f":23.9,"p":2e2},{"s":"E","f":24.5,"p":4.5e3},{"s":"E","f":25.1,"p":8e2},{"s":"E","f":25.7,"p":4e2},{"s":"E","f":26.3,"p":6e3},{"s":"E","f":26.9,"p":3e2},{"s":"E","f":27.5,"p":3.5e3},{"s":"E","f":28.1,"p":7e2},{"s":"E","f":28.7,"p":1.5e2},{"s":"E","f":29.3,"p":3e3},{"s":"E","f":29.9,"p":3e2},{"s":"E","f":30.5,"p":2e3},{"s":"E","f":31.1,"p":3.5e3},{"s":"E","f":31.7,"p":1.2e2},{"s":"E","f":32.3,"p":3e3},{"s":"E","f":32.9,"p":5e2},{"s":"E","f":33.5,"p":2.5e2},{"s":"E","f":34.1,"p":2.8e3},{"s":"E","f":34.7,"p":1e2},{"s":"E","f":35.3,"p":2.5e3},{"s":"E","f":35.9,"p":4e2},{"s":"E","f":36.5,"p":2e2},{"s":"E","f":37.1,"p":2.2e3},{"s":"E","f":37.7,"p":9e1},{"s":"E","f":38.3,"p":1.5e3},{"s":"E","f":38.9,"p":2.5e3},{"s":"E","f":39.5,"p":1.5e2},
{"s":"E","f":40.25,"p":2.5e3},{"s":"E","f":41,"p":1.5e2},{"s":"E","f":41.75,"p":1.8e3},{"s":"E","f":42.5,"p":7e1},{"s":"E","f":43.25,"p":2.2e3},{"s":"E","f":44,"p":3e2},{"s":"E","f":44.75,"p":2e3},{"s":"E","f":45.5,"p":1.5e2},{"s":"E","f":46.25,"p":2.5e3},{"s":"E","f":47,"p":2e2},{"s":"E","f":47.75,"p":1.5e3},{"s":"E","f":48.5,"p":6e1},{"s":"E","f":49.25,"p":2e3},{"s":"E","f":50,"p":1.2e1},{"s":"E","f":50.75,"p":2.2e3},{"s":"E","f":51.5,"p":2e2},{"s":"E","f":52.25,"p":1.8e3},{"s":"E","f":53,"p":1e2},{"s":"E","f":53.75,"p":2.5e3},{"s":"E","f":54.5,"p":3e2},{"s":"E","f":55.25,"p":2e3},{"s":"E","f":56,"p":7e1},{"s":"E","f":56.75,"p":2.2e3},{"s":"E","f":57.5,"p":2e2},{"s":"E","f":58.25,"p":1.8e3},{"s":"E","f":59,"p":1.2e2},{"s":"E","f":59.75,"p":3e3},{"s":"E","f":60.5,"p":2e2},{"s":"E","f":61.25,"p":2e3},{"s":"E","f":62,"p":6e1},{"s":"E","f":62.75,"p":1.8e3},{"s":"E","f":63.5,"p":1.5e2},{"s":"E","f":64.25,"p":1.5e3},{"s":"E","f":65,"p":9},{"s":"E","f":65.75,"p":1.6e3},{"s":"E","f":66.5,"p":1.2e2},{"s":"E","f":67.25,"p":1.4e3},{"s":"E","f":68,"p":7e1},{"s":"E","f":68.75,"p":1.2e3},{"s":"E","f":69.5,"p":1.8e3},{"s":"E","f":70.25,"p":5e1},{"s":"E","f":71,"p":1.1e3},{"s":"E","f":71.75,"p":1e2},{"s":"E","f":72.5,"p":1e3},{"s":"E","f":73.25,"p":3e1},{"s":"E","f":74,"p":9e2},{"s":"E","f":74.75,"p":6e1},{"s":"E","f":75.5,"p":1e3},{"s":"E","f":76.25,"p":4e1},{"s":"E","f":77,"p":8e2},{"s":"E","f":77.75,"p":5e1},{"s":"E","f":78.5,"p":7e2},{"s":"E","f":79.25,"p":2.5e1},{"s":"E","f":80,"p":6e2},{"s":"E","f":80.75,"p":4e1},{"s":"E","f":81.5,"p":5e2},{"s":"E","f":82.25,"p":2e1},{"s":"E","f":83,"p":4.5e2},{"s":"E","f":83.75,"p":3e1},{"s":"E","f":84.5,"p":4e2},{"s":"E","f":85.25,"p":1.5e1},{"s":"E","f":86,"p":3.5e2},{"s":"E","f":86.75,"p":2e1},{"s":"E","f":87.5,"p":3e2},{"s":"E","f":88.25,"p":1.2e1},{"s":"E","f":89,"p":2.5e2},{"s":"E","f":89.75,"p":1.5e1},{"s":"E","f":90.5,"p":2e2},{"s":"E","f":91.25,"p":8},{"s":"E","f":92,"p":1.8e2},{"s":"E","f":92.75,"p":1e1},{"s":"E","f":93.5,"p":1.5e2},{"s":"E","f":94.25,"p":5},{"s":"E","f":95,"p":1.2e2},{"s":"E","f":95.75,"p":6},{"s":"E","f":96.5,"p":1e2},{"s":"E","f":97.25,"p":4},{"s":"E","f":98,"p":9e1},{"s":"E","f":98.75,"p":3},{"s":"E","f":99.5,"p":8e1},
{"s":"F","f":0.05,"p":4e3},{"s":"F","f":0.1,"p":2.3e4},{"s":"F","f":0.15,"p":4.2e4},{"s":"F","f":0.2,"p":5.5e4},{"s":"F","f":0.25,"p":2.5e5},{"s":"F","f":0.3,"p":5e4},{"s":"F","f":0.35,"p":1.2e5},{"s":"F","f":0.4,"p":3e4},{"s":"F","f":0.45,"p":6e4},{"s":"F","f":0.5,"p":1.2e4},{"s":"F","f":0.55,"p":1.6e4},{"s":"F","f":0.6,"p":5e3},{"s":"F","f":0.65,"p":1.5e4},{"s":"F","f":0.7,"p":5e3},{"s":"F","f":0.75,"p":1e4},{"s":"F","f":0.8,"p":2e3},{"s":"F","f":0.85,"p":9e3},{"s":"F","f":0.9,"p":2.5e3},{"s":"F","f":0.95,"p":7e3},{"s":"F","f":1,"p":3e3},
{"s":"F","f":1.03,"p":5e3},{"s":"F","f":1.12,"p":1.5e3},{"s":"F","f":1.22,"p":4e3},{"s":"F","f":1.32,"p":1.2e3},{"s":"F","f":1.42,"p":3.5e3},{"s":"F","f":1.52,"p":1e3},{"s":"F","f":1.62,"p":3e3},{"s":"F","f":1.72,"p":8e2},{"s":"F","f":1.82,"p":2.5e3},{"s":"F","f":1.92,"p":9e2},{"s":"F","f":2,"p":2e3},
{"s":"F","f":2.12,"p":4e3},{"s":"F","f":2.27,"p":7e2},{"s":"F","f":2.42,"p":2.5e3},{"s":"F","f":2.57,"p":6e2},{"s":"F","f":2.72,"p":2e3},{"s":"F","f":2.87,"p":8e2},{"s":"F","f":3.02,"p":3e3},{"s":"F","f":3.17,"p":6e2},{"s":"F","f":3.32,"p":2.5e3},{"s":"F","f":3.47,"p":4e2},{"s":"F","f":3.62,"p":2e3},{"s":"F","f":3.77,"p":7e2},{"s":"F","f":3.92,"p":3e3},{"s":"F","f":4.07,"p":5e2},{"s":"F","f":4.22,"p":2e3},{"s":"F","f":4.37,"p":6e2},{"s":"F","f":4.52,"p":2.5e3},{"s":"F","f":4.67,"p":4e2},{"s":"F","f":4.82,"p":2e3},{"s":"F","f":4.97,"p":2.8e2},
{"s":"F","f":5.2,"p":2.5e3},{"s":"F","f":5.45,"p":5e2},{"s":"F","f":5.7,"p":3e3},{"s":"F","f":5.95,"p":4e2},{"s":"F","f":6.2,"p":2.5e3},{"s":"F","f":6.45,"p":6e2},{"s":"F","f":6.7,"p":3e3},{"s":"F","f":6.95,"p":4e2},{"s":"F","f":7.15,"p":3.5e3},{"s":"F","f":7.4,"p":3e2},{"s":"F","f":7.65,"p":2.5e3},{"s":"F","f":7.9,"p":3e2},{"s":"F","f":8.15,"p":3e3},{"s":"F","f":8.4,"p":2e2},{"s":"F","f":8.65,"p":2.5e3},{"s":"F","f":8.9,"p":4e2},{"s":"F","f":9.15,"p":3e3},{"s":"F","f":9.4,"p":3e2},{"s":"F","f":9.65,"p":4e3},{"s":"F","f":9.9,"p":3e2},
{"s":"F","f":10.3,"p":3e3},{"s":"F","f":10.6,"p":2e2},{"s":"F","f":10.9,"p":1.5e3},{"s":"F","f":11.2,"p":4e3},{"s":"F","f":11.5,"p":3e2},{"s":"F","f":11.8,"p":3e3},{"s":"F","f":12.1,"p":8e2},{"s":"F","f":12.4,"p":2e2},{"s":"F","f":12.7,"p":5e3},{"s":"F","f":13,"p":6e2},{"s":"F","f":13.3,"p":2.5e2},{"s":"F","f":13.6,"p":6e3},{"s":"F","f":13.9,"p":3e2},{"s":"F","f":14.2,"p":2e3},{"s":"F","f":14.5,"p":5e3},{"s":"F","f":14.8,"p":2e2},{"s":"F","f":15.1,"p":6e3},{"s":"F","f":15.4,"p":2.5e2},{"s":"F","f":15.7,"p":2e3},{"s":"F","f":16,"p":4e3},{"s":"F","f":16.3,"p":3e2},{"s":"F","f":16.6,"p":3.5e3},{"s":"F","f":16.9,"p":6e2},{"s":"F","f":17.2,"p":1.5e2},{"s":"F","f":17.5,"p":4e3},{"s":"F","f":17.8,"p":2e2},{"s":"F","f":18.1,"p":2e3},{"s":"F","f":18.4,"p":3e3},{"s":"F","f":18.7,"p":1.5e2},{"s":"F","f":19,"p":3.5e3},{"s":"F","f":19.3,"p":5e2},{"s":"F","f":19.6,"p":2e2},{"s":"F","f":19.9,"p":3e3},
{"s":"F","f":20.5,"p":2e2},{"s":"F","f":21.1,"p":1.5e3},{"s":"F","f":21.7,"p":3e3},{"s":"F","f":22.3,"p":1.5e2},{"s":"F","f":22.9,"p":3.5e3},{"s":"F","f":23.5,"p":5e2},{"s":"F","f":24.1,"p":1.2e2},{"s":"F","f":24.7,"p":3e3},{"s":"F","f":25.3,"p":8e2},{"s":"F","f":25.9,"p":1.5e2},{"s":"F","f":26.5,"p":3.5e3},{"s":"F","f":27.1,"p":4e2},{"s":"F","f":27.7,"p":1e2},{"s":"F","f":28.3,"p":2.5e3},{"s":"F","f":28.9,"p":6e2},{"s":"F","f":29.5,"p":1.2e2},{"s":"F","f":30.1,"p":2.2e3},{"s":"F","f":30.7,"p":8e1},{"s":"F","f":31.3,"p":2e3},{"s":"F","f":31.9,"p":4e2},{"s":"F","f":32.5,"p":1e2},{"s":"F","f":33.1,"p":2e3},{"s":"F","f":33.7,"p":7e1},{"s":"F","f":34.3,"p":1.8e3},{"s":"F","f":34.9,"p":3e2},{"s":"F","f":35.5,"p":9e1},{"s":"F","f":36.1,"p":1.8e3},{"s":"F","f":36.7,"p":6e1},{"s":"F","f":37.3,"p":1.5e3},{"s":"F","f":37.9,"p":3e2},{"s":"F","f":38.5,"p":8e1},{"s":"F","f":39.1,"p":1.6e3},{"s":"F","f":39.7,"p":6e1},
{"s":"F","f":40.5,"p":1.5e3},{"s":"F","f":41.25,"p":2e2},{"s":"F","f":42,"p":5e1},{"s":"F","f":42.75,"p":1.8e3},{"s":"F","f":43.5,"p":2e2},{"s":"F","f":44.25,"p":4e1},{"s":"F","f":45,"p":1.5e3},{"s":"F","f":45.75,"p":2.5e2},{"s":"F","f":46.5,"p":6e1},{"s":"F","f":47.25,"p":1.8e3},{"s":"F","f":48,"p":1.5e2},{"s":"F","f":48.75,"p":4e1},{"s":"F","f":49.5,"p":1.5e3},{"s":"F","f":50.25,"p":3e2},{"s":"F","f":51,"p":5e1},{"s":"F","f":51.75,"p":1.8e3},{"s":"F","f":52.5,"p":1.5e2},{"s":"F","f":53.25,"p":4e1},{"s":"F","f":54,"p":1.8e3},{"s":"F","f":54.75,"p":2e2},{"s":"F","f":55.5,"p":5e1},{"s":"F","f":56.25,"p":1.5e3},{"s":"F","f":57,"p":2.5e2},{"s":"F","f":57.75,"p":4e1},{"s":"F","f":58.5,"p":1.8e3},{"s":"F","f":59.25,"p":3e3},{"s":"F","f":60,"p":5e1},{"s":"F","f":60.75,"p":1.5e3},{"s":"F","f":61.5,"p":1.5e2},{"s":"F","f":62.25,"p":3e1},{"s":"F","f":63,"p":1.2e3},{"s":"F","f":63.75,"p":2e2},{"s":"F","f":64.5,"p":3e1},{"s":"F","f":65.25,"p":1.2e3},{"s":"F","f":66,"p":1.5e2},{"s":"F","f":66.75,"p":4e1},{"s":"F","f":67.5,"p":1.2e3},{"s":"F","f":68.25,"p":1e2},{"s":"F","f":69,"p":3e1},{"s":"F","f":69.75,"p":1e3},{"s":"F","f":70.5,"p":1.5e2},{"s":"F","f":71.25,"p":2.5e1},{"s":"F","f":72,"p":9e2},{"s":"F","f":72.75,"p":1e2},{"s":"F","f":73.5,"p":2.5e1},{"s":"F","f":74.25,"p":8e2},{"s":"F","f":75,"p":8e1},{"s":"F","f":75.75,"p":2e1},{"s":"F","f":76.5,"p":6e2},{"s":"F","f":77.25,"p":7e1},{"s":"F","f":78,"p":1.5e1},{"s":"F","f":78.75,"p":5e2},{"s":"F","f":79.5,"p":6e1},{"s":"F","f":80.25,"p":1.2e1},{"s":"F","f":81,"p":5e2},{"s":"F","f":81.75,"p":5e1},{"s":"F","f":82.5,"p":1e1},{"s":"F","f":83.25,"p":3.5e2},{"s":"F","f":84,"p":4e1},{"s":"F","f":84.75,"p":1e1},{"s":"F","f":85.5,"p":2.5e2},{"s":"F","f":86.25,"p":3e1},{"s":"F","f":87,"p":8},{"s":"F","f":87.75,"p":2e2},{"s":"F","f":88.5,"p":2.5e1},{"s":"F","f":89.25,"p":6},{"s":"F","f":90,"p":2e2},{"s":"F","f":90.75,"p":2e1},{"s":"F","f":91.5,"p":6},{"s":"F","f":92.25,"p":1.5e2},{"s":"F","f":93,"p":1.5e1},{"s":"F","f":93.75,"p":4},{"s":"F","f":94.5,"p":1e2},{"s":"F","f":95.25,"p":1e1},{"s":"F","f":96,"p":3},{"s":"F","f":96.75,"p":8e1},{"s":"F","f":97.5,"p":8},{"s":"F","f":98.25,"p":2},{"s":"F","f":99,"p":6e1},{"s":"F","f":99.75,"p":3},{"s":"F","f":100,"p":2}
]},
"layer":[
 {
  "mark":{"type":"line","strokeWidth":1.4,"clip":true},
  "encoding":{
   "x":{"field":"f","type":"quantitative","scale":{"type":"log","domain":[0.01,100],"nice":false},
        "axis":{"orient":"bottom","values":[0.01,0.1,1,10,100],"grid":true,"ticks":false,"labelExpr":"'10' + (datum.value < 1 ? '⁻' : '') + ['⁰','¹','²','³','⁴','⁵','⁶','⁷','⁸','⁹'][abs(round(log(datum.value)/LN10))]","labelFontSize":20,"labelColor":"#262626","labelPadding":10,"labelFlush":false,"labelOverlap":false,"labelBound":false,"title":"Frequency (Hz)","titleFontSize":20,"titleFontWeight":"normal","titleColor":"#262626","titlePadding":15}},
   "y":{"field":"p","type":"quantitative","scale":{"type":"log","domain":[0.1,100000000],"nice":false},
        "axis":{"orient":"left","values":[0.1,1,10,100,1000,10000,100000,1000000,10000000,100000000],"grid":true,"ticks":false,"labelExpr":"'10' + (datum.value < 1 ? '⁻' : '') + ['⁰','¹','²','³','⁴','⁵','⁶','⁷','⁸','⁹'][abs(round(log(datum.value)/LN10))]","labelFontSize":20,"labelColor":"#262626","labelPadding":12,"labelBaseline":"middle","labelFlush":false,"labelOverlap":false,"labelBound":false,"title":"Power","titleFontSize":20,"titleFontWeight":"normal","titleColor":"#262626","titlePadding":8}},
   "color":{"field":"s","type":"nominal","scale":{"domain":["A","B","C","D","E","F"],"range":["#ff1e00","#ff1e00","#ff1e00","#000000","#000000","#000000"]},
        "legend":{"title":null,"labelExpr":"datum.label=='A'?'Signal NS':datum.label=='B'?'Signal EW':datum.label=='C'?'Signal Z':datum.label=='D'?'Noise NS':datum.label=='E'?'Noise EW':'Noise Z'"}},
   "strokeDash":{"field":"s","type":"nominal","scale":{"domain":["A","B","C","D","E","F"],"range":[[1,0],[1,0],[1,0],[28,12],[28,12],[28,12]]},
        "legend":{"title":null,"labelExpr":"datum.label=='A'?'Signal NS':datum.label=='B'?'Signal EW':datum.label=='C'?'Signal Z':datum.label=='D'?'Noise NS':datum.label=='E'?'Noise EW':'Noise Z'"}}
  }
 },
 {
  "transform":[{"filter":"datum.f >= 9"}],
  "mark":{"type":"line","strokeWidth":1.4,"clip":true},
  "encoding":{
   "x":{"field":"f","type":"quantitative","scale":{"type":"log","domain":[0.01,100],"nice":false},"axis":null},
   "y":{"field":"p","type":"quantitative","scale":{"type":"log","domain":[0.1,100000000],"nice":false},"axis":null},
   "color":{"field":"s","type":"nominal","scale":{"domain":["A","B","C","D","E","F"],"range":["#ff1e00","#ff1e00","#ff1e00","#000000","#000000","#000000"]},
        "legend":{"title":null,"labelExpr":"datum.label=='A'?'Signal NS':datum.label=='B'?'Signal EW':datum.label=='C'?'Signal Z':datum.label=='D'?'Noise NS':datum.label=='E'?'Noise EW':'Noise Z'"}}
  }
 },
 {
  "transform":[{"filter":"datum.s=='A' && datum.f==1"}],
  "mark":{"type":"point","opacity":0},
  "encoding":{
   "x":{"field":"f","type":"quantitative","scale":{"type":"log","domain":[0.01,100],"nice":false},
        "axis":{"orient":"bottom","values":[0.02,0.03,0.04,0.05,0.06,0.07,0.08,0.09,0.2,0.3,0.4,0.5,0.6,0.7,0.8,0.9,2,3,4,5,6,7,8,9,20,30,40,50,60,70,80,90],"grid":true,"ticks":true,"tickSize":-13,"labels":false,"title":null}},
   "y":{"field":"p","type":"quantitative","scale":{"type":"log","domain":[0.1,100000000],"nice":false},
        "axis":{"orient":"left","values":[0.2,0.3,0.4,0.5,0.6,0.7,0.8,0.9,2,3,4,5,6,7,8,9,20,30,40,50,60,70,80,90,200,300,400,500,600,700,800,900,2000,3000,4000,5000,6000,7000,8000,9000,20000,30000,40000,50000,60000,70000,80000,90000,200000,300000,400000,500000,600000,700000,800000,900000,2000000,3000000,4000000,5000000,6000000,7000000,8000000,9000000,20000000,30000000,40000000,50000000,60000000,70000000,80000000,90000000],"grid":true,"ticks":true,"tickSize":-13,"labels":false,"title":null}}
  }
 },
 {
  "transform":[{"filter":"datum.s=='A' && datum.f==1"}],
  "mark":{"type":"point","opacity":0},
  "encoding":{
   "x":{"field":"f","type":"quantitative","scale":{"type":"log","domain":[0.01,100],"nice":false},
        "axis":{"orient":"bottom","values":[0.01,0.1,1,10,100],"grid":false,"ticks":true,"tickSize":-22,"labels":false,"title":null}},
   "y":{"field":"p","type":"quantitative","scale":{"type":"log","domain":[0.1,100000000],"nice":false},
        "axis":{"orient":"left","values":[0.1,1,10,100,1000,10000,100000,1000000,10000000,100000000],"grid":false,"ticks":true,"tickSize":-22,"labels":false,"title":null}}
  }
 },
 {
  "transform":[{"filter":"datum.s=='A' && datum.f==1"}],
  "mark":{"type":"point","opacity":0},
  "encoding":{
   "x":{"field":"f","type":"quantitative","scale":{"type":"log","domain":[0.01,100],"nice":false},
        "axis":{"orient":"top","values":[0.01,0.1,1,10,100],"grid":false,"ticks":true,"tickSize":-22,"labels":false,"title":null}},
   "y":{"field":"p","type":"quantitative","scale":{"type":"log","domain":[0.1,100000000],"nice":false},
        "axis":{"orient":"right","values":[0.1,1,10,100,1000,10000,100000,1000000,10000000,100000000],"grid":false,"ticks":true,"tickSize":-22,"labels":false,"title":null}}
  }
 },
 {
  "transform":[{"filter":"datum.s=='A' && datum.f==1"}],
  "mark":{"type":"point","opacity":0},
  "encoding":{
   "x":{"field":"f","type":"quantitative","scale":{"type":"log","domain":[0.01,100],"nice":false},
        "axis":{"orient":"top","values":[0.02,0.03,0.04,0.05,0.06,0.07,0.08,0.09,0.2,0.3,0.4,0.5,0.6,0.7,0.8,0.9,2,3,4,5,6,7,8,9,20,30,40,50,60,70,80,90],"grid":false,"ticks":true,"tickSize":-13,"labels":false,"title":null}},
   "y":{"field":"p","type":"quantitative","scale":{"type":"log","domain":[0.1,100000000],"nice":false},
        "axis":{"orient":"right","values":[0.2,0.3,0.4,0.5,0.6,0.7,0.8,0.9,2,3,4,5,6,7,8,9,20,30,40,50,60,70,80,90,200,300,400,500,600,700,800,900,2000,3000,4000,5000,6000,7000,8000,9000,20000,30000,40000,50000,60000,70000,80000,90000,200000,300000,400000,500000,600000,700000,800000,900000,2000000,3000000,4000000,5000000,6000000,7000000,8000000,9000000,20000000,30000000,40000000,50000000,60000000,70000000,80000000,90000000],"grid":false,"ticks":true,"tickSize":-13,"labels":false,"title":null}}
  }
 }
],
"resolve":{"axis":{"x":"independent","y":"independent"}}
}
